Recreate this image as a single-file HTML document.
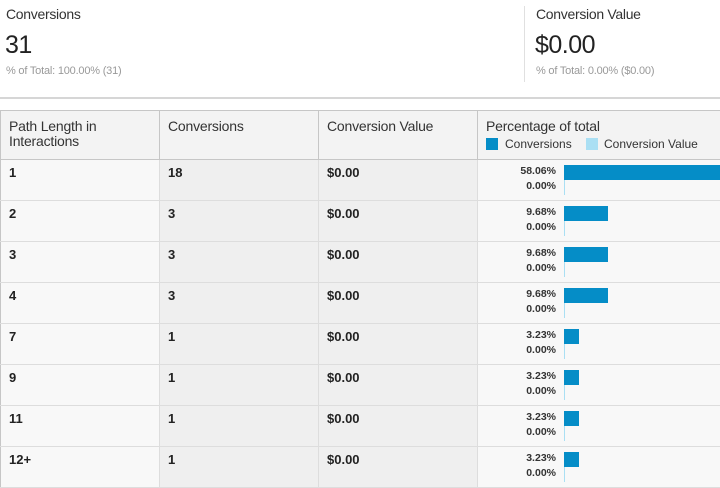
<!DOCTYPE html>
<html><head><meta charset="utf-8"><style>
*{margin:0;padding:0;box-sizing:border-box}
body{width:720px;height:488px;background:#fff;font-family:"Liberation Sans",Arial,sans-serif;color:#222;position:relative;overflow:hidden}
.a{position:absolute;white-space:nowrap}
.t{font-size:14px;color:#333;letter-spacing:-0.3px}
.big{font-size:25px;color:#222;letter-spacing:-0.5px}
.sm{font-size:11px;color:#999;letter-spacing:-0.2px}
.hd{font-size:14px;color:#333;line-height:15px;letter-spacing:-0.2px}
.b{font-size:13px;font-weight:bold;color:#222}
.p{font-size:10.5px;font-weight:bold;color:#333;text-align:right;width:60px}
</style></head><body>
<div class="a t" style="left:6px;top:6px">Conversions</div>
<div class="a big" style="left:5px;top:31px">31</div>
<div class="a sm" style="left:6px;top:65px">% of Total: <span style="color:#999">100.00% (31)</span></div>
<div class="a" style="left:524px;top:6px;width:1px;height:76px;background:#e0e0e0"></div>
<div class="a t" style="left:536px;top:6px">Conversion Value</div>
<div class="a big" style="left:535px;top:31px">$0.00</div>
<div class="a sm" style="left:536px;top:65px">% of Total: 0.00% ($0.00)</div>
<div class="a" style="left:0;top:97px;width:720px;height:2px;background:#d6d6d6"></div>

<!-- table backgrounds -->
<div class="a" style="left:0;top:110px;width:720px;height:50px;background:#f3f3f3;border-top:1px solid #c6c6c6;border-bottom:1px solid #c6c6c6"></div>
<div class="a" style="left:0;top:160px;width:720px;height:328px;background:#f8f8f8"></div>
<div class="a" style="left:159px;top:160px;width:318px;height:328px;background:#efefef"></div>
<div class="a" style="left:0;top:110px;width:1px;height:378px;background:#c6c6c6"></div>
<div class="a" style="left:159px;top:110px;width:1px;height:50px;background:#c6c6c6"></div>
<div class="a" style="left:318px;top:110px;width:1px;height:50px;background:#c6c6c6"></div>
<div class="a" style="left:477px;top:110px;width:1px;height:50px;background:#c6c6c6"></div>
<div class="a" style="left:159px;top:160px;width:1px;height:328px;background:#ddd"></div>
<div class="a" style="left:318px;top:160px;width:1px;height:328px;background:#ddd"></div>
<div class="a" style="left:477px;top:160px;width:1px;height:328px;background:#ddd"></div>

<div class="a hd" style="left:9px;top:119px">Path Length in<br>Interactions</div>
<div class="a hd" style="left:168px;top:119px">Conversions</div>
<div class="a hd" style="left:327px;top:119px">Conversion Value</div>
<div class="a hd" style="left:486px;top:119px">Percentage of total</div>
<div class="a" style="left:486px;top:138px;width:12px;height:12px;background:#058dc7"></div>
<div class="a" style="left:505px;top:137px;font-size:12px;color:#333">Conversions</div>
<div class="a" style="left:586px;top:138px;width:12px;height:12px;background:#aadff3"></div>
<div class="a" style="left:604px;top:137px;font-size:12px;color:#333">Conversion Value</div>

<!-- rows: top = 160 + 41*i -->
<div class="a" style="left:0;top:200px;width:720px;height:1px;background:#ddd"></div>
<div class="a" style="left:0;top:241px;width:720px;height:1px;background:#ddd"></div>
<div class="a" style="left:0;top:282px;width:720px;height:1px;background:#ddd"></div>
<div class="a" style="left:0;top:323px;width:720px;height:1px;background:#ddd"></div>
<div class="a" style="left:0;top:364px;width:720px;height:1px;background:#ddd"></div>
<div class="a" style="left:0;top:405px;width:720px;height:1px;background:#ddd"></div>
<div class="a" style="left:0;top:446px;width:720px;height:1px;background:#ddd"></div>
<div class="a" style="left:0;top:487px;width:720px;height:1px;background:#ddd"></div>

<div class="a b" style="left:9px;top:165px">1</div><div class="a b" style="left:168px;top:165px">18</div><div class="a b" style="left:327px;top:165px">$0.00</div>
<div class="a p" style="left:496px;top:165px">58.06%</div><div class="a p" style="left:496px;top:180px">0.00%</div>
<div class="a" style="left:564px;top:165px;width:264px;height:15px;background:#058dc7"></div><div class="a" style="left:564px;top:180px;width:1px;height:15px;background:#aadff3"></div>

<div class="a b" style="left:9px;top:206px">2</div><div class="a b" style="left:168px;top:206px">3</div><div class="a b" style="left:327px;top:206px">$0.00</div>
<div class="a p" style="left:496px;top:206px">9.68%</div><div class="a p" style="left:496px;top:221px">0.00%</div>
<div class="a" style="left:564px;top:206px;width:44px;height:15px;background:#058dc7"></div><div class="a" style="left:564px;top:221px;width:1px;height:15px;background:#aadff3"></div>

<div class="a b" style="left:9px;top:247px">3</div><div class="a b" style="left:168px;top:247px">3</div><div class="a b" style="left:327px;top:247px">$0.00</div>
<div class="a p" style="left:496px;top:247px">9.68%</div><div class="a p" style="left:496px;top:262px">0.00%</div>
<div class="a" style="left:564px;top:247px;width:44px;height:15px;background:#058dc7"></div><div class="a" style="left:564px;top:262px;width:1px;height:15px;background:#aadff3"></div>

<div class="a b" style="left:9px;top:288px">4</div><div class="a b" style="left:168px;top:288px">3</div><div class="a b" style="left:327px;top:288px">$0.00</div>
<div class="a p" style="left:496px;top:288px">9.68%</div><div class="a p" style="left:496px;top:303px">0.00%</div>
<div class="a" style="left:564px;top:288px;width:44px;height:15px;background:#058dc7"></div><div class="a" style="left:564px;top:303px;width:1px;height:15px;background:#aadff3"></div>

<div class="a b" style="left:9px;top:329px">7</div><div class="a b" style="left:168px;top:329px">1</div><div class="a b" style="left:327px;top:329px">$0.00</div>
<div class="a p" style="left:496px;top:329px">3.23%</div><div class="a p" style="left:496px;top:344px">0.00%</div>
<div class="a" style="left:564px;top:329px;width:15px;height:15px;background:#058dc7"></div><div class="a" style="left:564px;top:344px;width:1px;height:15px;background:#aadff3"></div>

<div class="a b" style="left:9px;top:370px">9</div><div class="a b" style="left:168px;top:370px">1</div><div class="a b" style="left:327px;top:370px">$0.00</div>
<div class="a p" style="left:496px;top:370px">3.23%</div><div class="a p" style="left:496px;top:385px">0.00%</div>
<div class="a" style="left:564px;top:370px;width:15px;height:15px;background:#058dc7"></div><div class="a" style="left:564px;top:385px;width:1px;height:15px;background:#aadff3"></div>

<div class="a b" style="left:9px;top:411px">11</div><div class="a b" style="left:168px;top:411px">1</div><div class="a b" style="left:327px;top:411px">$0.00</div>
<div class="a p" style="left:496px;top:411px">3.23%</div><div class="a p" style="left:496px;top:426px">0.00%</div>
<div class="a" style="left:564px;top:411px;width:15px;height:15px;background:#058dc7"></div><div class="a" style="left:564px;top:426px;width:1px;height:15px;background:#aadff3"></div>

<div class="a b" style="left:9px;top:452px">12+</div><div class="a b" style="left:168px;top:452px">1</div><div class="a b" style="left:327px;top:452px">$0.00</div>
<div class="a p" style="left:496px;top:452px">3.23%</div><div class="a p" style="left:496px;top:467px">0.00%</div>
<div class="a" style="left:564px;top:452px;width:15px;height:15px;background:#058dc7"></div><div class="a" style="left:564px;top:467px;width:1px;height:15px;background:#aadff3"></div>
</body></html>
